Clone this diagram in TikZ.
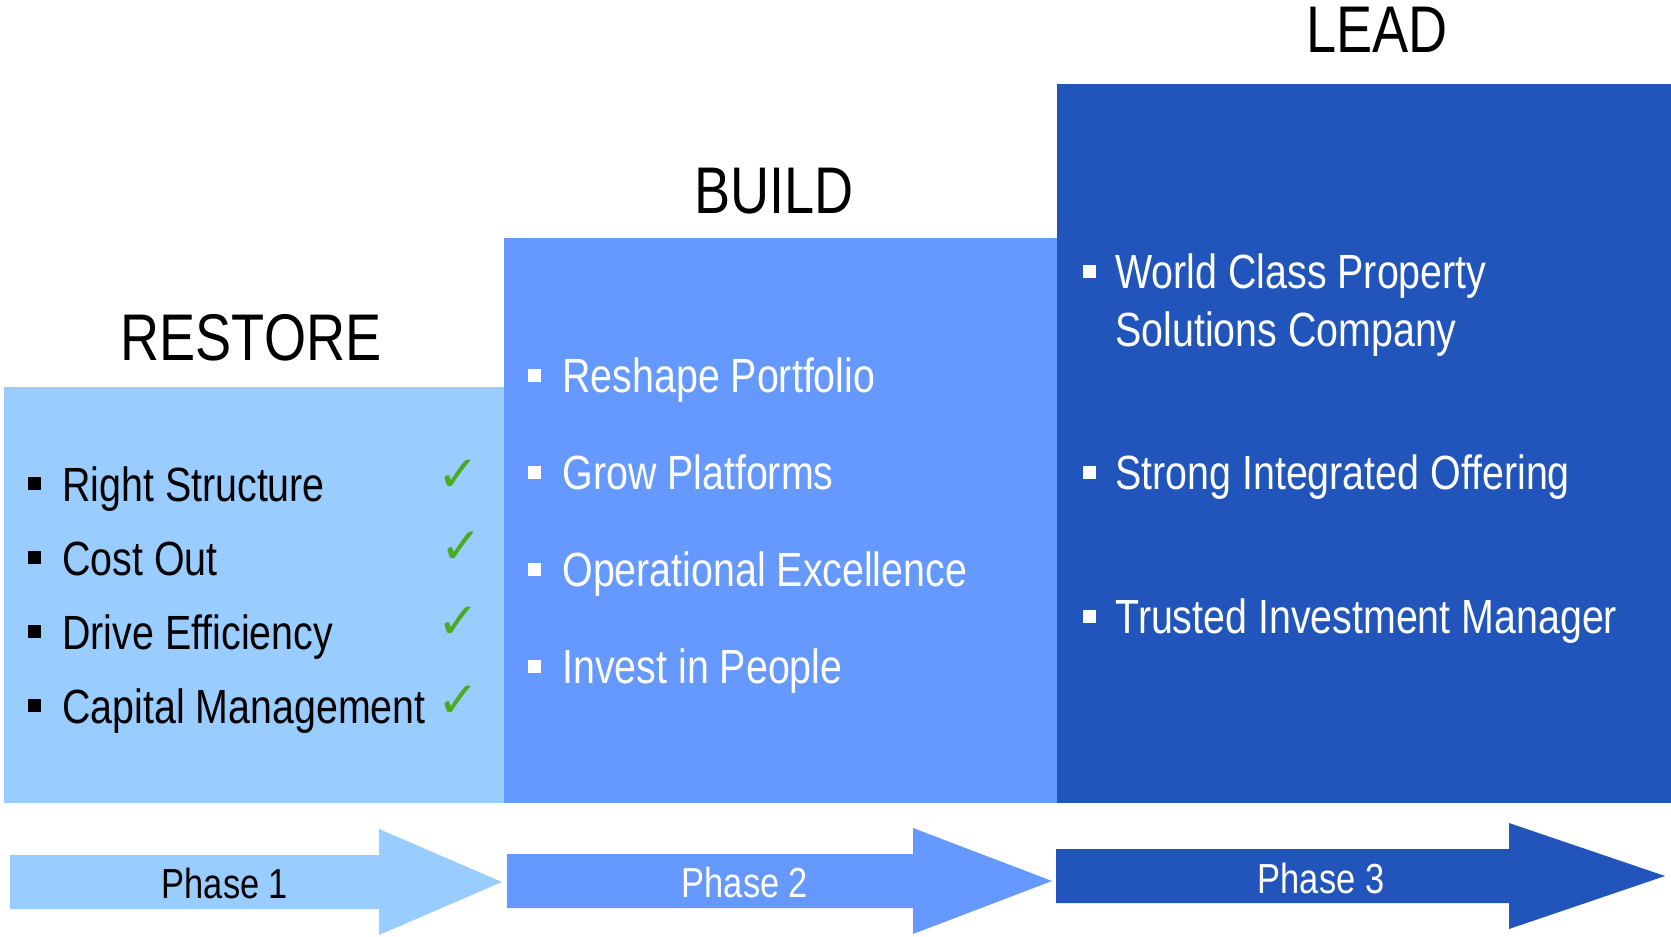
\documentclass[tikz,border=0pt]{standalone}
\usepackage{fontspec}
\setmainfont{Liberation Sans}[FakeStretch=0.82]
\newfontfamily\symfont{DejaVu Sans}

\definecolor{restoreblue}{HTML}{99CCFF}
\definecolor{buildblue}{HTML}{6699FF}
\definecolor{leadblue}{HTML}{2255BB}
\definecolor{tickgreen}{HTML}{4CAA22}

\tikzset{
  heading/.style={anchor=base, inner sep=0pt, font=\fontsize{33}{36}\selectfont},
  item/.style={anchor=base west, inner sep=0pt, font=\fontsize{24}{28}\selectfont},
  bulletsq/.style={fill, minimum size=6.5pt, inner sep=0pt},
  phase/.style={anchor=base, inner sep=0pt, font=\fontsize{21}{24}\selectfont},
  tick/.style={inner sep=0pt, text=tickgreen, font=\symfont\bfseries\fontsize{25}{25}\selectfont}
}

\begin{document}
\begin{tikzpicture}[x=0.5pt,y=-0.5pt]
	\useasboundingbox (0,0) rectangle (1671,937);

	% the three steps
	\fill[restoreblue] (4,387) rectangle (504,803);
	\fill[buildblue] (504,238) rectangle (1057,803);
	\fill[leadblue] (1057,84) rectangle (1671,803);

	\node[heading] (restore) at (251,360) {RESTORE};
	\node[heading] (build) at (774,213) {BUILD};
	\node[heading] (lead) at (1377,52) {LEAD};

	% restore
	\foreach \txt [count=\i] in {Right Structure, Cost Out, Drive Efficiency, Capital Management} {
			\node[item] (r\i) at (62,{501+74.3*(\i-1)}) {\txt};
			\node[bulletsq] (rb\i) at (34,{483+74.3*(\i-1)}) {};
		}
	\foreach \x/\y [count=\i] in {458/476, 461/548, 458/623, 458/702} {
			\node[tick] (t\i) at (\x,\y) {✓};
		}

	% build
	\foreach \txt [count=\i] in {Reshape Portfolio, Grow Platforms, Operational Excellence, Invest in People} {
			\node[item,text=white] (b\i) at (562,{392+97.3*(\i-1)}) {\txt};
			\node[bulletsq,white] (bb\i) at (534,{375+97.3*(\i-1)}) {};
		}

	% lead
	\node[item,text=white] (l1) at (1115,288) {World Class Property};
	\node[item,text=white] (l1b) at (1115,346) {Solutions Company};
	\node[item,text=white] (l2) at (1115,489) {Strong Integrated Offering};
	\node[item,text=white] (l3) at (1115,633) {Trusted Investment Manager};
	\foreach \y [count=\i] in {271, 472, 616} {
			\node[bulletsq,white] (lb\i) at (1089,\y) {};
		}

	% phase arrows
	\foreach \xs/\xh/\xt/\yc/\col in {10/379/502/882/restoreblue, 507/913/1052/881/buildblue, 1056/1509/1665/876/leadblue} {
			\fill[\col] (\xs,{\yc-27}) -- (\xh,{\yc-27}) -- (\xh,{\yc-53}) -- (\xt,\yc)
				-- (\xh,{\yc+53}) -- (\xh,{\yc+27}) -- (\xs,{\yc+27}) -- cycle;
		}
	\node[phase] (p1) at (225,898) {Phase 1};
	\node[phase,text=white] (p2) at (745,897) {Phase 2};
	\node[phase,text=white] (p3) at (1321,893) {Phase 3};
\end{tikzpicture}
\end{document}
